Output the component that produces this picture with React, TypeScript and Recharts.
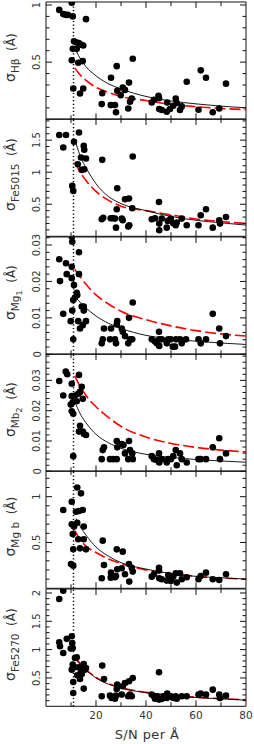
import React from 'react';
import { ComposedChart, Scatter, Line, XAxis, YAxis, ReferenceLine, ReferenceArea } from 'recharts';

const fitX = [12, 14, 16, 20, 25, 30, 40, 50, 60, 70, 80];
const altX = [11.5, 14, 16, 20, 25, 30, 40, 50, 60, 70, 80];
const xTicks = [10, 20, 30, 40, 50, 60, 70, 80];
const xLabels = [20, 40, 60, 80];
const snLimit = 11;

// [S/N, sigma]
const hbetaDots = [
  [5.3, 0.957], [6.9, 0.92], [8.0, 0.913], [8.7, 0.913], [10.3, 1.02], [10.7, 0.9], [16, 0.876],
  [11.2, 0.682], [12, 0.673], [13.1, 0.668], [14, 0.653], [14.9, 0.645], [10.7, 0.616], [12.3, 0.616],
  [10.3, 0.517], [12.9, 0.494], [14.7, 0.509], [10.9, 0.269], [13.6, 0.225], [14.9, 0.269],
  [22.3, 0.133], [22.5, 0.228], [26, 0.364], [25.9, 0.124], [27.6, 0.124], [28, 0.061], [28.3, 0.465],
  [28.5, 0.249], [29.9, 0.211], [30.7, 0.277], [31.6, 0.257], [32.9, 0.095], [33.2, 0.321], [33.6, 0.153],
  [34.3, 0.182], [34.7, 0.529], [42.3, 0.147], [43.2, 0.171], [45, 0.205], [45.2, 0.185], [45.3, 0.09],
  [46.3, 0.081], [48.3, 0.066], [48.5, 0.147], [49.6, 0.09], [50.9, 0.118], [51.9, 0.182], [52.3, 0.142],
  [53.6, 0.081], [54.3, 0.113], [56.3, 0.329], [61, 0.084], [61.9, 0.428], [64, 0.364], [66.7, 0.061],
  [69.3, 0.095], [72, 0.312],
];
const hbetaFit = [0.6, 0.52, 0.46, 0.38, 0.31, 0.265, 0.2, 0.16, 0.135, 0.115, 0.1];
const hbetaAlt = [0.45, 0.38, 0.34, 0.28, 0.235, 0.2, 0.165, 0.13, 0.11, 0.095, 0.085];

const fe5015Dots = [
  [5.3, 1.58], [6.9, 1.385], [8, 1.58], [10.5, 0.786], [10.9, 0.708], [11.2, 1.474], [13.2, 1.62],
  [12.7, 1.125], [14, 1.23], [15.1, 1.41], [15.3, 1.35], [14.3, 1.036], [15.3, 1.047], [16, 1.214],
  [22.5, 1.193], [22.3, 0.266], [22.9, 0.29], [25.9, 0.281], [26.7, 0.281], [27.6, 0.276], [28, 0.135],
  [28.3, 0.422], [28.5, 0.75], [30.3, 0.276], [30.7, 0.25], [31.6, 0.578], [33.2, 0.589], [32.9, 0.151],
  [33.3, 0.172], [34.7, 1.245], [34.5, 0.4375], [42.3, 0.266], [43.6, 0.281], [45.2, 0.536], [45.3, 0.198],
  [45.3, 0.094], [46.3, 0.276], [48.3, 0.135], [48.7, 0.24], [49.9, 0.276], [50.9, 0.203], [51.9, 0.172],
  [52.3, 0.214], [54.3, 0.276], [56.3, 0.172], [61, 0.172], [61.9, 0.328], [64, 0.422], [66.7, 0.135],
  [69.3, 0.25], [69.6, 0.198], [72, 0.302],
];
const fe5015Fit = [1.45, 1.22, 1.07, 0.82, 0.62, 0.51, 0.4, 0.31, 0.25, 0.21, 0.175];
const fe5015Alt = [1.16, 0.98, 0.87, 0.7, 0.56, 0.47, 0.4, 0.335, 0.27, 0.23, 0.2];

const mg1Dots = [
  [10.3, 0.0323], [10.5, 0.0309], [5.3, 0.0261], [5.6, 0.0201], [6.9, 0.0111], [8, 0.025], [8.3, 0.022],
  [9.9, 0.0091], [10.3, 0.024], [10.3, 0.0209], [10.5, 0.012], [10.9, 0.0041], [11.2, 0.019], [10.9, 0.0149],
  [11.6, 0.0156], [12.3, 0.0169], [12.5, 0.0163], [13.2, 0.028], [13.2, 0.022], [12.9, 0.0091], [13.6, 0.0071],
  [14.3, 0.0131], [15.1, 0.0131], [15.1, 0.012], [14.7, 0.008], [16, 0.0091], [22.3, 0.003], [22.7, 0.0041],
  [23.2, 0.0071], [25.6, 0.0041], [26, 0.0071], [27.6, 0.0041], [28, 0.003], [28.3, 0.0082], [28.5, 0.0091],
  [30.3, 0.0071], [30.7, 0.0062], [31.6, 0.005], [32.9, 0.003], [33.2, 0.01], [33.6, 0.0041], [34.7, 0.0142],
  [34.5, 0.0041], [42.3, 0.0041], [43.6, 0.0035], [44.3, 0.003], [45.2, 0.0062], [45.3, 0.0023], [45.3, 0.0041],
  [46.3, 0.0041], [48.3, 0.003], [48.9, 0.0041], [49.9, 0.0041], [50.7, 0.0021], [51.6, 0.0021], [52, 0.0041],
  [53.6, 0.0041], [54.3, 0.003], [56, 0.0041], [61, 0.0041], [61.9, 0.003], [64, 0.0041], [66.7, 0.0111],
  [69.3, 0.0071], [69.6, 0.003], [72, 0.005],
];
const mg1Fit = [0.0155, 0.014, 0.0127, 0.0105, 0.0085, 0.0071, 0.0052, 0.0042, 0.0036, 0.0031, 0.0027];
const mg1Alt = [0.0233, 0.021, 0.0192, 0.0163, 0.0138, 0.0118, 0.0095, 0.0078, 0.0065, 0.0056, 0.005];

const mb2Dots = [
  [5.3, 0.0298], [6.9, 0.025], [7.9, 0.0329], [8.5, 0.032], [10.3, 0.0289], [10.3, 0.0248], [9.9, 0.022],
  [10.7, 0.0228], [10.3, 0.0198], [10.9, 0.019], [10.9, 0.005], [11.6, 0.025], [12.3, 0.0231], [12.9, 0.0256],
  [13.2, 0.0318], [13.6, 0.0262], [14.3, 0.0279], [14.7, 0.0239], [13.6, 0.015], [13.2, 0.0131], [14.7, 0.0131],
  [15.2, 0.0123], [16, 0.012], [22.3, 0.004], [22.7, 0.007], [23.2, 0.0079], [25.6, 0.004], [26.9, 0.004],
  [28.3, 0.004], [28.3, 0.01], [28.5, 0.0079], [30.3, 0.009], [31, 0.0087], [31.6, 0.0059], [32.9, 0.004],
  [33.2, 0.01], [33.6, 0.007], [34.7, 0.004], [34.5, 0.0059], [42.3, 0.005], [43.2, 0.004], [44.3, 0.0037],
  [45.2, 0.0059], [45.3, 0.0029], [46.3, 0.004], [48.3, 0.0029], [48.9, 0.004], [49.9, 0.004], [50.9, 0.005],
  [51.9, 0.007], [52.3, 0.002], [53.6, 0.0059], [54.3, 0.004], [56.3, 0.0029], [61, 0.004], [61.9, 0.004],
  [64, 0.004], [66.7, 0.0079], [69.3, 0.0109], [69.6, 0.004], [72, 0.0059],
];
const mb2Fit = [0.022, 0.0185, 0.016, 0.0122, 0.0094, 0.0076, 0.0056, 0.0046, 0.0039, 0.0034, 0.003];
const mb2Alt = [0.0315, 0.0275, 0.025, 0.0213, 0.0178, 0.0148, 0.0113, 0.0092, 0.0079, 0.007, 0.0064];

const mgbDots = [
  [6.9, 0.855], [10.3, 0.945], [10.3, 0.698], [10, 0.265], [10.9, 0.247], [10.7, 0.593], [10.9, 0.425],
  [11.2, 0.673], [12, 0.836], [12.5, 1.1], [13.2, 0.844], [14, 1.036], [14.7, 0.855], [12.5, 0.716],
  [12.9, 0.535], [13.6, 0.436], [15.1, 0.673], [15.1, 0.535], [16, 0.425], [22.3, 0.109], [22.7, 0.52],
  [23.2, 0.255], [26, 0.171], [25.9, 0.116], [27.6, 0.12], [28, 0.135], [28.3, 0.425], [28.5, 0.207],
  [30.3, 0.218], [30.7, 0.4], [31.6, 0.153], [33.2, 0.265], [33.3, 0.073], [34.3, 0.225], [34.7, 0.182],
  [42.3, 0.127], [43.2, 0.153], [45.2, 0.225], [45.2, 0.193], [45.3, 0.109], [46.3, 0.098], [48.3, 0.084],
  [48.9, 0.145], [49.9, 0.08], [50.9, 0.127], [51.9, 0.164], [52.3, 0.062], [53.6, 0.164], [54.3, 0.098],
  [56.3, 0.12], [61, 0.098], [61.9, 0.135], [64, 0.171], [66.7, 0.098], [69.3, 0.091], [72, 0.153],
];
const mgbFit = [0.76, 0.66, 0.58, 0.45, 0.35, 0.28, 0.21, 0.16, 0.13, 0.115, 0.1];
const mgbAlt = [0.63, 0.52, 0.46, 0.39, 0.32, 0.27, 0.2, 0.16, 0.13, 0.112, 0.1];

const fe5270Dots = [
  [6.9, 2.04], [5.3, 1.894], [5.3, 1.13], [5.6, 1.06], [6.9, 0.94], [8.3, 1.19], [10.3, 1.235], [10.5, 1.118],
  [9.9, 1.018], [10.7, 1.03], [10.3, 0.647], [10.7, 0.735], [10.9, 0.43], [10.9, 0.235], [11.6, 0.853],
  [12.3, 0.865], [11.6, 0.688], [12.5, 0.547], [13.2, 0.688], [13.6, 0.482], [14, 0.618], [14.3, 0.57],
  [15.1, 0.747], [15.1, 0.312], [15.6, 0.647], [16, 0.676], [14.7, 0.676], [22.3, 0.176], [22.5, 0.718],
  [23.2, 0.482], [25.6, 0.188], [26.3, 0.147], [27.6, 0.135], [28, 0.188], [28.3, 0.306], [28.5, 0.382],
  [30.3, 0.206], [30.7, 0.353], [31.6, 0.412], [32.9, 0.176], [33.2, 0.441], [33.6, 0.206], [34.3, 0.176],
  [34.7, 0.5], [42.3, 0.206], [43.2, 0.176], [43.6, 0.135], [44.3, 0.176], [45.2, 0.6], [45.2, 0.118],
  [46.3, 0.129], [47, 0.176], [48.3, 0.147], [48.5, 0.224], [49.9, 0.176], [50.9, 0.147], [51.9, 0.176],
  [52.3, 0.135], [54.3, 0.176], [56.3, 0.176], [61, 0.206], [61.9, 0.224], [64, 0.206], [66.7, 0.294],
  [69.3, 0.206], [69.6, 0.147], [72, 0.188],
];
const fe5270Fit = [0.82, 0.72, 0.64, 0.5, 0.39, 0.32, 0.24, 0.19, 0.155, 0.13, 0.11];
const fe5270Alt = [0.88, 0.74, 0.65, 0.51, 0.4, 0.33, 0.245, 0.195, 0.16, 0.135, 0.115];

// axis ticks per panel
const tenthTicks = [0.1, 0.2, 0.3, 0.4, 0.5, 0.6, 0.7, 0.8, 0.9, 1, 1.1, 1.2, 1.3, 1.4, 1.5, 1.6, 1.7, 1.8, 1.9, 2];
const smallTicks = [0.002, 0.004, 0.006, 0.008, 0.01, 0.012, 0.014, 0.016, 0.018, 0.02, 0.022, 0.024, 0.026, 0.028, 0.03, 0.032, 0.034, 0.036, 0.038];
const hbetaLabels = [0.5, 1];
const fe5015Labels = [0.5, 1, 1.5];
const mg1Labels = [0, 0.01, 0.02, 0.03];
const mb2Labels = [0, 0.01, 0.02, 0.03];
const mgbLabels = [0.5, 1];
const fe5270Labels = [0.5, 1, 1.5, 2];

const FONT = '"DejaVu Sans", sans-serif';
const INK = '#333';
const W = 254;
const PLOT_L = 46;
const PLOT_W = 200;
const TOP0 = 2;
const PH = 117.3;
const PAD = 8;

const panels = [
  { dots: hbetaDots, fit: hbetaFit, alt: hbetaAlt, domain: [0, 1.026], ticks: tenthTicks, labels: hbetaLabels, sub: 'Hβ', subsub: '' },
  { dots: fe5015Dots, fit: fe5015Fit, alt: fe5015Alt, domain: [0, 1.83], ticks: tenthTicks, labels: fe5015Labels, sub: 'Fe5015', subsub: '' },
  { dots: mg1Dots, fit: mg1Fit, alt: mg1Alt, domain: [0, 0.0322], ticks: smallTicks, labels: mg1Labels, sub: 'Mg', subsub: '1' },
  { dots: mb2Dots, fit: mb2Fit, alt: mb2Alt, domain: [0, 0.0387], ticks: smallTicks, labels: mb2Labels, sub: 'Mb', subsub: '2' },
  { dots: mgbDots, fit: mgbFit, alt: mgbAlt, domain: [0, 1.28], ticks: tenthTicks, labels: mgbLabels, sub: 'Mg b', subsub: '' },
  { dots: fe5270Dots, fit: fe5270Fit, alt: fe5270Alt, domain: [0, 2.07], ticks: tenthTicks, labels: fe5270Labels, sub: 'Fe5270', subsub: '' },
];

const YTick = (props: any) => {
  const { x, y, payload, labels } = props;
  const v = payload.value;
  const major = labels.includes(v);
  const len = major ? 6 : 3.5;
  return (
    <g>
      <line x1={x} x2={x + len} y1={y} y2={y} stroke="#111" strokeWidth={1} />
      <line x1={x + PLOT_W} x2={x + PLOT_W - len} y1={y} y2={y} stroke="#111" strokeWidth={1} />
      {major && (
        <text x={40.5} y={y} transform={`rotate(-90, 40.5, ${y})`} textAnchor="middle" fontSize={10} fontFamily={FONT} fill={INK}>
          {String(v)}
        </text>
      )}
    </g>
  );
};

const XTick = (props: any) => {
  const { x, y, payload, last } = props;
  const v = payload.value;
  const major = v % 20 === 0;
  const len = v === 80 ? 0 : major ? 6 : 4;
  return (
    <g>
      <line x1={x} x2={x} y1={y} y2={y - len} stroke="#111" strokeWidth={1} />
      <line x1={x} x2={x} y1={y - PH} y2={y - PH + len} stroke="#111" strokeWidth={1} />
      {last && xLabels.includes(v) && (
        <text x={x} y={y + 13} textAnchor="middle" fontSize={10.5} fontFamily={FONT} fill={INK}>
          {String(v)}
        </text>
      )}
    </g>
  );
};

const Dot = (p: any) => <circle cx={p.cx} cy={p.cy} r={3.3} fill="#000" />;

const Panel = ({ spec, index }: { spec: any; index: number }) => {
  const last = index === panels.length - 1;
  const bottom = last ? 40 : PAD;
  const dotData = spec.dots.map(([x, y]: number[]) => ({ x, y }));
  const fitData = fitX.map((x, i) => ({ x, y: spec.fit[i] }));
  const altData = altX.map((x, i) => ({ x, y: spec.alt[i] }));
  const [d0, d1] = spec.domain;
  const yTicks = [...spec.labels, ...spec.ticks.filter((t: number) => t < d1 && !spec.labels.includes(t))];

  const title = (p: any) => {
    const vb = p.viewBox;
    const cy = vb.y + vb.height / 2 - 3;
    return (
      <text transform={`translate(15, ${cy}) rotate(-90)`} textAnchor="middle" fontFamily={FONT} fill={INK}>
        <tspan fontSize={14}>σ</tspan>
        <tspan fontSize={10.5} dy={4}>{spec.sub}</tspan>
        {spec.subsub && <tspan fontSize={8} dy={2.5}>{spec.subsub}</tspan>}
        <tspan fontSize={12} dy={spec.subsub ? -6.5 : -4}>{'\u00a0\u00a0(Å)'}</tspan>
      </text>
    );
  };

  const xTitle = (p: any) => {
    if (!last) return null;
    const vb = p.viewBox;
    return (
      <text x={vb.x + vb.width / 2 + 1} y={vb.y + 33} textAnchor="middle" fontSize={13} fontFamily={FONT} fill={INK} letterSpacing={0.4}>
        S/N per Å
      </text>
    );
  };

  return (
    <div style={{ position: 'absolute', left: 0, top: TOP0 + index * PH - PAD }}>
      <ComposedChart width={W} height={PH + PAD + bottom} margin={{ top: PAD, right: W - PLOT_L - PLOT_W, bottom: bottom - 1, left: 0 }}>
        <XAxis
          type="number"
          dataKey="x"
          domain={[0, 80]}
          ticks={xTicks}
          interval={0}
          height={1}
          tickSize={0}
          tickMargin={0}
          axisLine={false}
          tickLine={false}
          allowDataOverflow
          tick={<XTick last={last} />}
          label={{ content: xTitle }}
        />
        <YAxis
          type="number"
          dataKey="y"
          domain={spec.domain}
          ticks={yTicks}
          interval={0}
          width={PLOT_L}
          tickSize={0}
          tickMargin={0}
          axisLine={false}
          tickLine={false}
          allowDataOverflow
          tick={<YTick labels={spec.labels} />}
          label={{ content: title }}
        />
        <ReferenceArea x1={0} x2={80} y1={d0} y2={d1} fill="none" stroke="#111" strokeWidth={1} strokeOpacity={1} fillOpacity={0} />
        <ReferenceLine x={snLimit} stroke="#000" strokeWidth={1.5} strokeDasharray="1.2 2.4" />
        <Scatter data={dotData} shape={Dot} isAnimationActive={false} />
        <Line data={altData} dataKey="y" type="monotone" stroke="#f00" strokeWidth={1.6} strokeDasharray="11 4" dot={false} isAnimationActive={false} />
        <Line data={fitData} dataKey="y" type="monotone" stroke="#000" strokeWidth={0.9} dot={false} isAnimationActive={false} />
      </ComposedChart>
    </div>
  );
}

export default function App() {
  return (
    <div style={{ position: 'fixed', left: 0, top: 0, width: W, height: 744, background: '#fff' }}>
      {panels.map((spec, i) => (
        <Panel key={i} spec={spec} index={i} />
      ))}
    </div>
  );
}
